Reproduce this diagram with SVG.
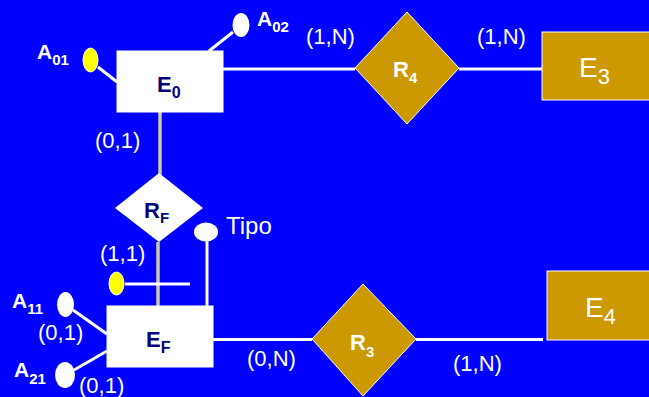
<svg xmlns="http://www.w3.org/2000/svg" width="649" height="397" viewBox="0 0 649 397">
<style>
.lbl{font-family:"Liberation Sans",Arial,sans-serif;fill:#fff;font-size:22px}
.att{font-family:"Liberation Sans",Arial,sans-serif;fill:#fff;font-size:21px;font-weight:bold}
.attsub{font-size:15px}
.ent{fill:#fff;stroke:#fff}
.entt{font-family:"Liberation Sans",Arial,sans-serif;fill:#000080;font-size:22px;font-weight:bold}
.gold{fill:#CC9900;stroke:#fff;stroke-width:1}
.goldt{font-family:"Liberation Sans",Arial,sans-serif;fill:#fff;font-size:28px}
.relt{font-family:"Liberation Sans",Arial,sans-serif;fill:#fff;font-size:22px;font-weight:bold}
.wl{stroke:#fff;stroke-width:3;fill:none}
.tl{stroke:#CCCC99;stroke-width:3.5;fill:none}
</style>
<rect x="0" y="0" width="649" height="397" fill="#0000FF"/>
<g id="connectors">
<line class="wl" x1="223" y1="69" x2="355" y2="69"/>
<line class="wl" x1="459" y1="69" x2="542" y2="69"/>
<line class="tl" x1="160" y1="112" x2="160" y2="175"/>
<line class="tl" x1="158" y1="242" x2="158" y2="306"/>
<line class="wl" x1="213" y1="339.5" x2="312" y2="339.5"/>
<line class="wl" x1="416" y1="339.5" x2="543" y2="339.5"/>
<line class="wl" x1="98" y1="67" x2="117" y2="82"/>
<line class="wl" x1="233" y1="32" x2="209" y2="51"/>
<line class="wl" x1="125" y1="284" x2="190" y2="284"/>
<line class="wl" x1="207" y1="240" x2="207" y2="306"/>
<line class="wl" x1="73" y1="310" x2="107" y2="334"/>
<line class="wl" x1="74" y1="370" x2="107" y2="351"/>
</g>
<g id="E0">
<rect class="ent" x="117" y="51" width="106" height="61"/>
<text class="entt" x="157" y="92">E<tspan font-size="16" dy="6">0</tspan></text>
</g>
<g id="A01">
<ellipse cx="90.5" cy="60" rx="7.5" ry="12" fill="#FFFF00" stroke="#fff"/>
<text class="att" x="37" y="59">A<tspan class="attsub" dy="6">01</tspan></text>
</g>
<g id="A02">
<ellipse cx="241" cy="25" rx="8.5" ry="12" fill="#fff"/>
<text class="att" x="257" y="26">A<tspan class="attsub" dy="6">02</tspan></text>
</g>
<g id="R4">
<polygon class="gold" points="355,68 407,12 459,68 407,124"/>
<text class="relt" x="393" y="77">R<tspan font-size="15" dy="6">4</tspan></text>
</g>
<g id="E3">
<rect class="gold" x="542" y="32" width="110" height="68"/>
<text class="goldt" x="579" y="77">E<tspan font-size="22" dy="7">3</tspan></text>
</g>
<g id="RF">
<polygon points="115,208 159,173 203,208 159,242" fill="#fff"/>
<text class="entt" x="144" y="218">R<tspan font-size="15" dy="5">F</tspan></text>
</g>
<g id="Tipo">
<ellipse cx="206" cy="232" rx="12" ry="9.5" fill="#fff"/>
<text class="lbl" x="226" y="234" style="font-size:24px">Tipo</text>
</g>
<g id="AF">
<ellipse cx="116.5" cy="283.5" rx="7.5" ry="11.5" fill="#FFFF00" stroke="#fff"/>
</g>
<g id="EF">
<rect class="ent" x="107" y="306" width="106" height="61"/>
<text class="entt" x="146" y="347">E<tspan font-size="16" dy="6">F</tspan></text>
</g>
<g id="A11">
<ellipse cx="65.5" cy="304.5" rx="8.5" ry="12.5" fill="#fff"/>
<text class="att" x="12" y="308">A<tspan class="attsub" dy="6">11</tspan></text>
</g>
<g id="A21">
<ellipse cx="65" cy="375" rx="10" ry="13" fill="#fff"/>
<text class="att" x="14" y="377">A<tspan class="attsub" dy="7">21</tspan></text>
</g>
<g id="R3">
<polygon class="gold" points="312,339 363,284 416,339 363,396"/>
<text class="relt" x="350" y="350">R<tspan font-size="15" dy="7">3</tspan></text>
</g>
<g id="E4">
<rect class="gold" x="547" y="271" width="110" height="69"/>
<text class="goldt" x="585" y="317">E<tspan font-size="22" dy="7">4</tspan></text>
</g>
<g id="labels">
<text class="lbl" x="306" y="44">(1,N)</text>
<text class="lbl" x="477" y="44">(1,N)</text>
<text class="lbl" x="95" y="148">(0,1)</text>
<text class="lbl" x="100" y="261">(1,1)</text>
<text class="lbl" x="38" y="340">(0,1)</text>
<text class="lbl" x="79" y="393">(0,1)</text>
<text class="lbl" x="247" y="366">(0,N)</text>
<text class="lbl" x="453" y="371">(1,N)</text>
</g>
</svg>
